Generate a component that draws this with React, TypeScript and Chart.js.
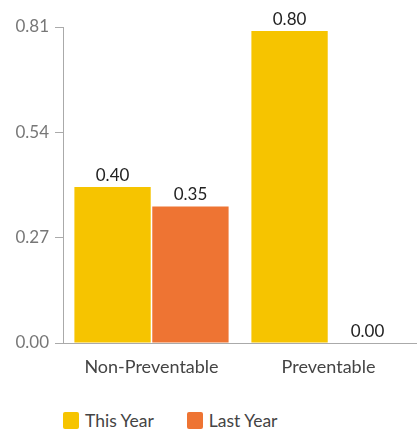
import React, { useEffect, useRef } from "react";
import { Chart, registerables } from "chart.js";

Chart.register(...registerables);

const categories = ["Non-Preventable", "Preventable"];
const thisYear = [0.4, 0.8];
const lastYear = [0.35, 0.0];
const seriesNames = ["This Year", "Last Year"];
const yTicks = [0, 0.27, 0.54, 0.81];

const YELLOW = "#F6C400";
const ORANGE = "#EE7433";
const COLORS = [YELLOW, ORANGE];
const FONT = "Lato, 'Open Sans', sans-serif";

const valueLabels = {
  id: "valueLabels",
  afterDatasetsDraw(chart: any) {
    const ctx = chart.ctx;
    ctx.save();
    ctx.font = `17px ${FONT}`;
    ctx.fillStyle = "#222";
    ctx.textAlign = "center";
    ctx.textBaseline = "bottom";
    chart.data.datasets.forEach((ds: any, i: number) => {
      const meta = chart.getDatasetMeta(i);
      meta.data.forEach((el: any, j: number) => {
        const v = ds.data[j];
        ctx.fillText(v.toFixed(2), el.x, el.y - 3);
      });
    });
    ctx.restore();
  },
};

export default function App() {
  const ref = useRef<HTMLCanvasElement | null>(null);
  useEffect(() => {
    document.body.style.margin = "0";
    const chart = new Chart(ref.current as HTMLCanvasElement, {
      type: "bar",
      data: {
        labels: categories,
        datasets: [
          { label: seriesNames[0], data: thisYear, backgroundColor: YELLOW },
          { label: seriesNames[1], data: lastYear, backgroundColor: ORANGE },
        ],
      },
      options: {
        responsive: false,
        animation: false,
        layout: { padding: { top: 27, right: 0, left: 0, bottom: 0 } },
        datasets: {
          bar: { categoryPercentage: 0.88, barPercentage: 0.98 },
        },
        scales: {
          x: {
            grid: { display: false, drawTicks: false },
            border: { color: "#aaa", width: 1 },
            ticks: { color: "#444", font: { family: FONT, size: 18 }, padding: 13 },
            afterFit(scale: any) {
              scale.height = 32;
            },
          },
          y: {
            min: 0,
            max: 0.81,
            afterBuildTicks(scale: any) {
              scale.ticks = yTicks.map((v) => ({ value: v }));
            },
            afterFit(scale: any) {
              scale.width = 63;
            },
            grid: { drawOnChartArea: false, tickLength: 8, color: "#aaa" },
            border: { color: "#aaa", width: 1 },
            ticks: {
              color: "#777",
              font: { family: FONT, size: 17 },
              padding: 6,
              callback: (v: any) => Number(v).toFixed(2),
            },
          },
        },
        plugins: {
          tooltip: { enabled: false },
          legend: { display: false },
        },
      },
      plugins: [valueLabels],
    });
    return () => chart.destroy();
  }, []);
  return (
    <div style={{ width: 417, height: 430, fontFamily: FONT }}>
      <canvas ref={ref} width={417} height={375} style={{ display: "block" }} />
      <div
        style={{
          display: "flex",
          alignItems: "center",
          marginTop: 36,
          paddingLeft: 63,
          fontSize: 17.5,
          color: "#444",
          lineHeight: "19px",
        }}
      >
        {seriesNames.map((n, i) => (
          <div
            key={n}
            style={{ display: "flex", alignItems: "center", marginRight: i === 0 ? 33 : 0 }}
          >
            <span
              style={{
                display: "inline-block",
                width: 16,
                height: 17,
                background: COLORS[i],
                borderRadius: 2,
                marginRight: 6,
              }}
            />
            <span>{n}</span>
          </div>
        ))}
      </div>
    </div>
  );
}
